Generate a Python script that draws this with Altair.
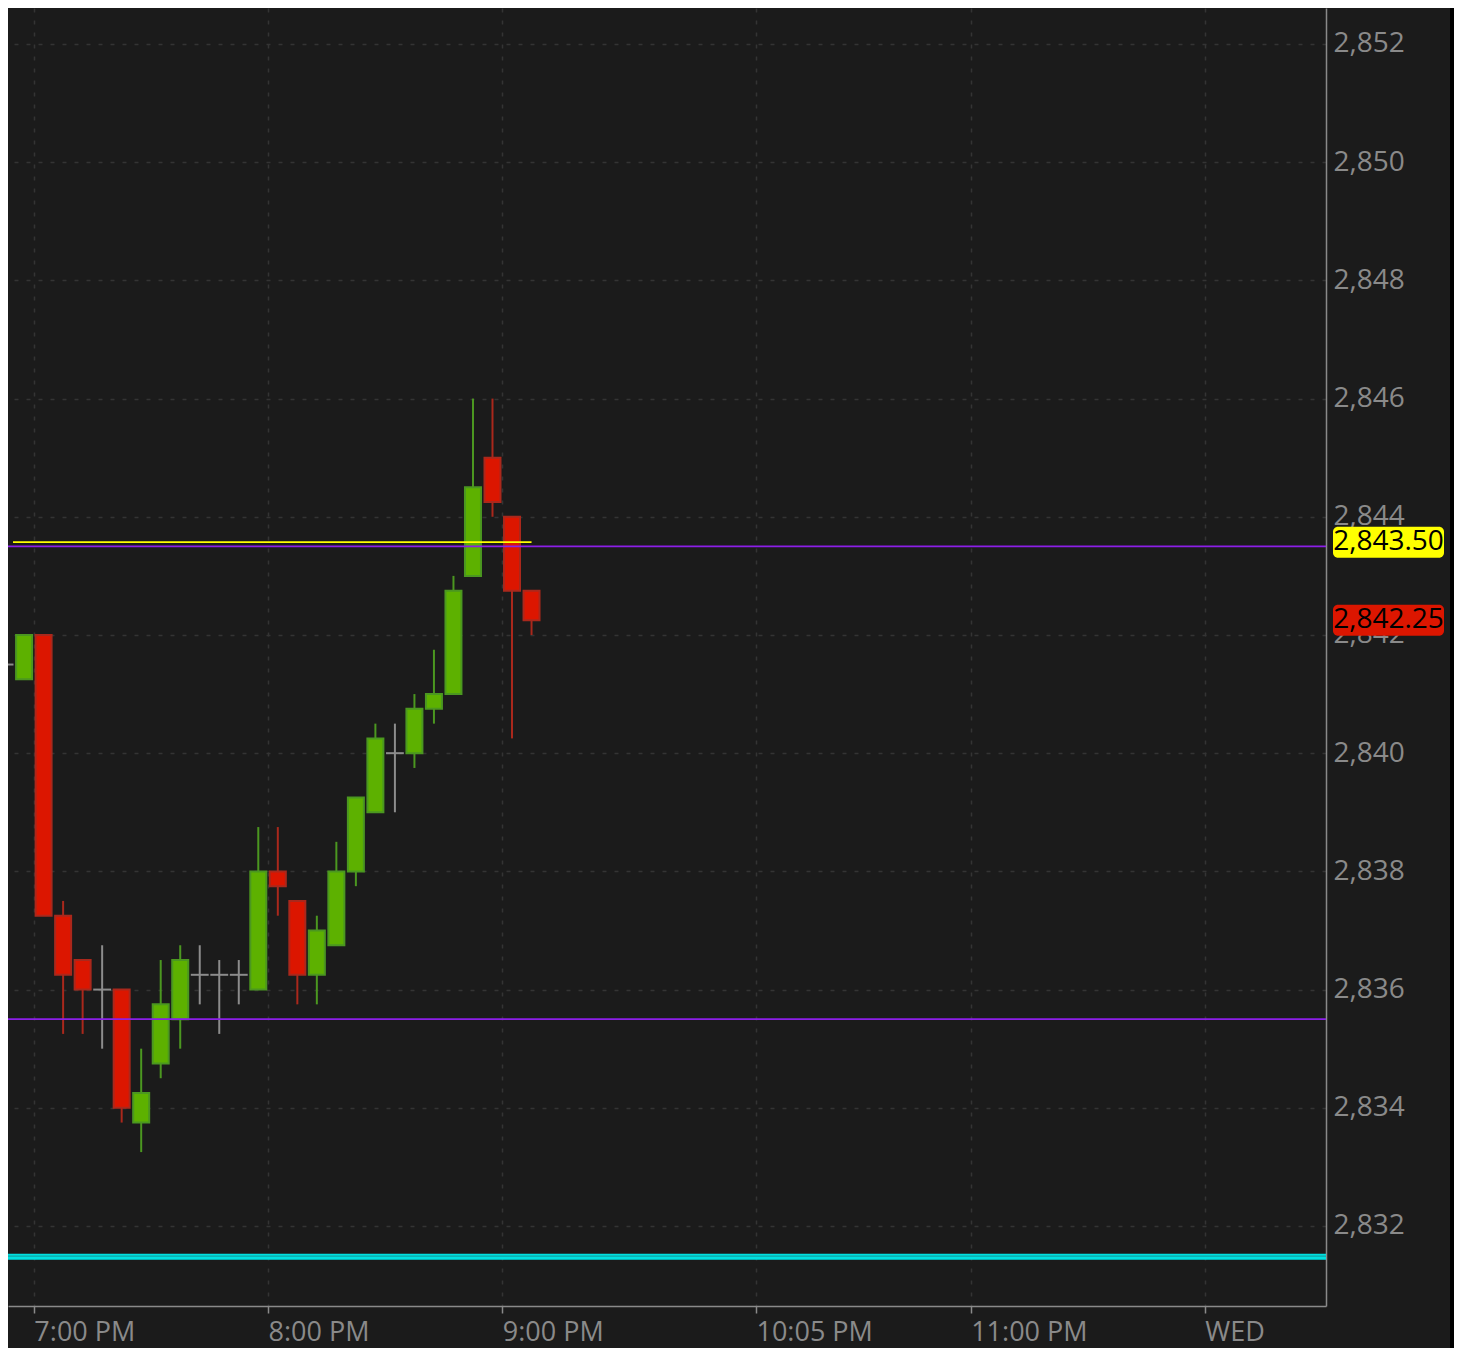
import altair as alt
import pandas as pd

# ---------------- data ----------------
times = ["18:50", "18:55", "19:00", "19:05", "19:10", "19:15", "19:20", "19:25",
         "19:30", "19:35", "19:40", "19:45", "19:50", "19:55", "20:00", "20:05",
         "20:10", "20:15", "20:20", "20:25", "20:30", "20:35", "20:40", "20:45",
         "20:50", "20:55", "21:00", "21:05"]
opens = [2841.5, 2841.25, 2842.0, 2837.25, 2836.5, 2836.0, 2836.0, 2833.75,
         2834.75, 2835.5, 2836.25, 2836.25, 2836.25, 2836.0, 2838.0, 2837.5,
         2836.25, 2836.75, 2838.0, 2839.0, 2840.0, 2840.0, 2840.75, 2841.0,
         2843.0, 2845.0, 2844.0, 2842.75]
highs = [2841.5, 2842.0, 2842.0, 2837.5, 2836.5, 2836.75, 2836.0, 2835.0,
         2836.5, 2836.75, 2836.75, 2836.5, 2836.5, 2838.75, 2838.75, 2837.5,
         2837.25, 2838.5, 2839.25, 2840.5, 2840.5, 2841.0, 2841.75, 2843.0,
         2846.0, 2846.0, 2844.0, 2842.75]
lows = [2841.0, 2841.25, 2837.25, 2835.25, 2835.25, 2835.0, 2833.75, 2833.25,
        2834.5, 2835.0, 2835.75, 2835.25, 2835.75, 2836.0, 2837.25, 2835.75,
        2835.75, 2836.75, 2837.75, 2839.0, 2839.0, 2839.75, 2840.5, 2841.0,
        2843.0, 2844.0, 2840.25, 2842.0]
closes = [2841.5, 2842.0, 2837.25, 2836.25, 2836.0, 2836.0, 2834.0, 2834.25,
          2835.75, 2836.5, 2836.25, 2836.25, 2836.25, 2838.0, 2837.75, 2836.25,
          2837.0, 2838.0, 2839.25, 2840.25, 2840.0, 2840.75, 2841.0, 2842.75,
          2844.5, 2844.25, 2842.75, 2842.25]

x_tick_minutes = [0, 60, 120, 185, 240, 300]          # minutes after 7:00 PM
x_tick_labels = ["7:00 PM", "8:00 PM", "9:00 PM", "10:05 PM", "11:00 PM", "WED"]
y_ticks = [2832, 2834, 2836, 2838, 2840, 2842, 2844, 2846, 2848, 2850, 2852]

purple_levels = [2843.5, 2835.5]
yellow_level = 2843.57
cyan_level = 2831.48
tag_values = [2843.57, 2842.25]
tag_texts = ["2,843.50", "2,842.25"]
tag_fills = ["#ffff00", "#dc1600"]

# ---------------- layout / style ----------------
W, H = 1318, 1298
PAD_R, PAD_B = 128, 42
X_DOMAIN = [-5.34, 329.75]
Y_DOMAIN = [2830.646, 2852.609]
PX_PER_MIN = W / (X_DOMAIN[1] - X_DOMAIN[0])
PX_PER_PT = H / (Y_DOMAIN[1] - Y_DOMAIN[0])
BG = "#1b1b1b"
GRID = "#343434"
AXIS = "#8a8a8a"
FONT = "Open Sans"

UP_FILL, UP_STROKE = "#5db100", "#4b9720"
DN_FILL, DN_STROKE = "#dc1600", "#aa281c"
FLAT = "#8c8c8c"

def to_min(s):
    h, m = s.split(":")
    return int(h) * 60 + int(m) - 19 * 60

rows = []
for t, o, hi, lo, c in zip(times, opens, highs, lows, closes):
    d = "up" if c > o else ("down" if c < o else "flat")
    centre = to_min(t) + 2.5
    half = 9.0 / PX_PER_MIN
    rows.append(dict(t=centre, tl=centre - half, tr=centre + half,
                     open=o, high=hi, low=lo, close=c, dir=d))
candles = pd.DataFrame(rows)

xs = alt.Scale(domain=X_DOMAIN, nice=False, zero=False)
ys = alt.Scale(domain=Y_DOMAIN, nice=False, zero=False)

label_expr = "[" + ",".join(f"'{l}'" for l in x_tick_labels) + "][indexof([" + \
    ",".join(str(v) for v in x_tick_minutes) + "], datum.value)]"

x_axis = alt.Axis(values=x_tick_minutes, labelExpr=label_expr, title=None,
                  grid=True, gridColor=GRID, gridDash=[4, 8], gridWidth=1.5,
                  domainColor=AXIS, domainWidth=1.5, tickColor=AXIS, tickSize=7,
                  tickWidth=1.5, labelColor=AXIS, labelFont=FONT, labelFontSize=27,
                  labelAlign="left", labelBaseline="alphabetic", labelPadding=27,
                  labelFlush=False, labelOverlap=False)
y_axis = alt.Axis(orient="right", values=y_ticks, format=",", title=None,
                  grid=True, gridColor=GRID, gridDash=[4, 8], gridWidth=1.5,
                  domainColor=AXIS, domainWidth=1.5, ticks=False,
                  labelColor=AXIS, labelFont=FONT, labelFontSize=28,
                  labelAlign="left", labelBaseline="middle", labelPadding=7,
                  labelOverlap=False, labelFlush=False)

wick_color = alt.Color("dir:N", scale=alt.Scale(domain=["up", "down", "flat"],
                       range=[UP_STROKE, DN_STROKE, FLAT]), legend=None)

wicks = alt.Chart(candles).mark_rule(strokeWidth=2, clip=True).encode(
    x=alt.X("t:Q", scale=xs, axis=x_axis),
    y=alt.Y("low:Q", scale=ys, axis=y_axis),
    y2="high:Q",
    color=wick_color,
)

bodies = alt.Chart(candles).transform_filter("datum.dir != 'flat'").mark_bar(
    size=16, strokeWidth=2, clip=True).encode(
    x=alt.X("t:Q", scale=xs),
    y=alt.Y("open:Q", scale=ys),
    y2="close:Q",
    fill=alt.Fill("dir:N", scale=alt.Scale(domain=["up", "down"],
                  range=[UP_FILL, DN_FILL]), legend=None),
    stroke=alt.Stroke("dir:N", scale=alt.Scale(domain=["up", "down"],
                      range=[UP_STROKE, DN_STROKE]), legend=None),
)

dojis = alt.Chart(candles).transform_filter("datum.dir == 'flat'").mark_rule(
    strokeWidth=2, color=FLAT, clip=True).encode(
    x=alt.X("tl:Q", scale=xs),
    x2="tr:Q",
    y=alt.Y("open:Q", scale=ys),
)

purple = alt.Chart(pd.DataFrame({"v": purple_levels})).mark_rule(
    color="#8c1fe8", strokeWidth=1.8).encode(y=alt.Y("v:Q", scale=ys))

yellow = alt.Chart(pd.DataFrame({"v": [yellow_level], "x0": [X_DOMAIN[0]],
                                 "x1": [candles["t"].iloc[-1]]})).mark_rule(
    color="#ffff00", strokeWidth=1.8).encode(
    x=alt.X("x0:Q", scale=xs), x2="x1:Q", y=alt.Y("v:Q", scale=ys))

cyan_df = pd.DataFrame({"v": [cyan_level]})
cyan = alt.Chart(cyan_df).mark_rule(color="#00e0e0", strokeWidth=6).encode(
    y=alt.Y("v:Q", scale=ys))
cyan_mid = alt.Chart(cyan_df).mark_rule(color="#10a4a4", strokeWidth=1.3,
                                        yOffset=-0.6).encode(
    y=alt.Y("v:Q", scale=ys))

half_tag = 15.5 / PX_PER_PT
tags = pd.DataFrame({"v": tag_values, "text": tag_texts, "fill": tag_fills})
tags["lo"] = tags["v"] - half_tag
tags["hi"] = tags["v"] + half_tag

tag_boxes = alt.Chart(tags).mark_rect(cornerRadius=5).encode(
    x=alt.value(W + 7), x2=alt.value(W + 118),
    y=alt.Y("lo:Q", scale=ys), y2="hi:Q",
    fill=alt.Fill("fill:N", scale=None),
)
tag_text = alt.Chart(tags).mark_text(font=FONT, fontSize=28, color="#000000",
                                     align="center", baseline="middle").encode(
    x=alt.value(W + 62.5), y=alt.Y("v:Q", scale=ys), text="text:N")

edge = alt.Chart(pd.DataFrame({"a": [0]})).mark_rect(color="#000000").encode(
    x=alt.value(W + 124), x2=alt.value(W + PAD_R),
    y=alt.value(0), y2=alt.value(H + PAD_B))

chart = alt.layer(wicks, bodies, dojis, purple, yellow, cyan, cyan_mid,
                  tag_boxes, tag_text, edge).properties(
    width=W, height=H, background=BG,
    padding={"left": 0, "top": 0, "right": PAD_R, "bottom": PAD_B},
    autosize=alt.AutoSizeParams(type="none"),
).configure_view(stroke=None)

chart.save("out.html", embed_options={"renderer": "svg", "actions": False})
